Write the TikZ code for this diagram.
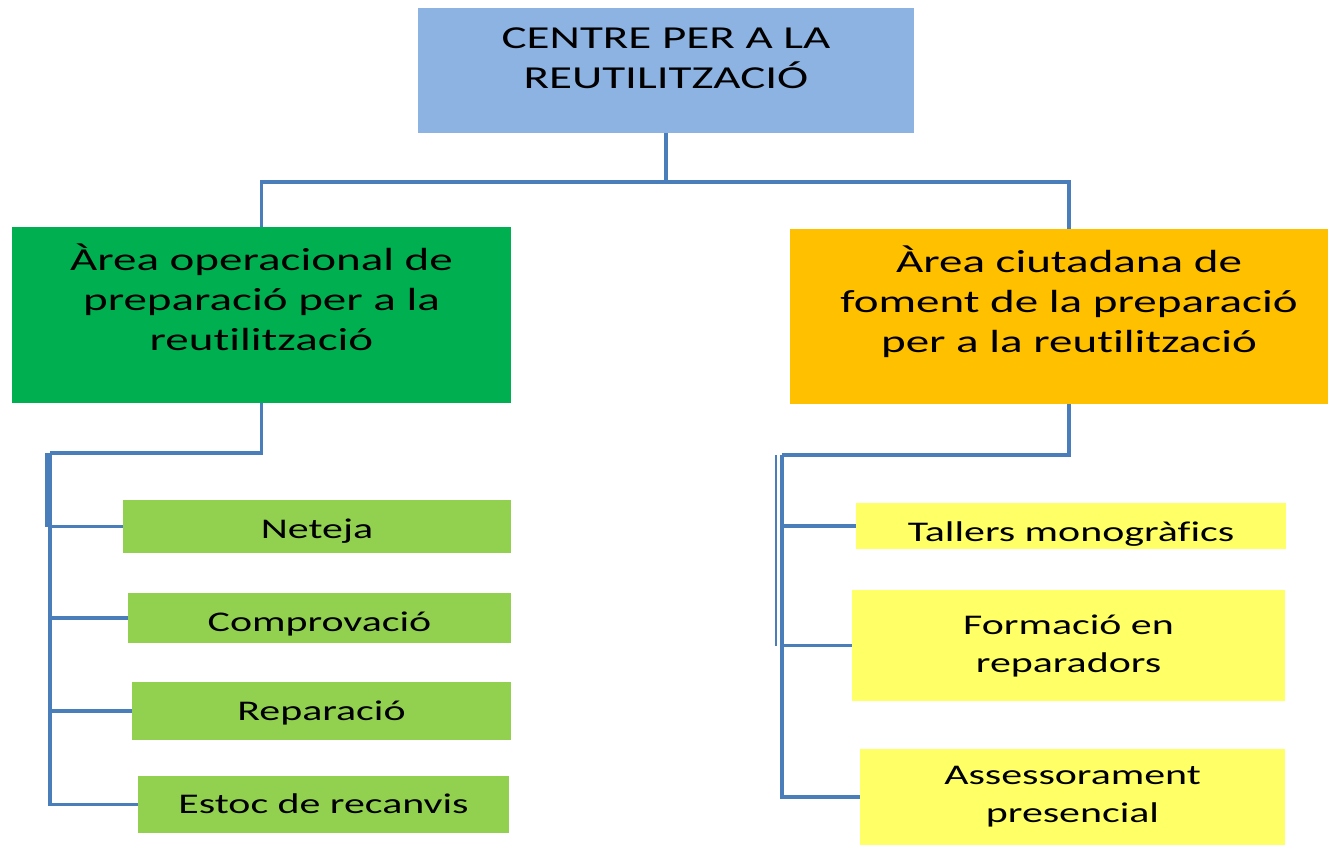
\documentclass[tikz,border=0pt]{standalone}
\usepackage{fontspec}
\newfontfamily\boxfont[FakeStretch=1.47,RawFeature=-liga,RawFeature=-clig,RawFeature=-calt,RawFeature=-dlig]{Carlito}

\definecolor{linkblue}{RGB}{74,126,187}
\definecolor{topblue}{RGB}{141,179,226}
\definecolor{opgreen}{RGB}{0,176,80}
\definecolor{ciuorange}{RGB}{255,192,0}
\definecolor{subgreen}{RGB}{146,208,80}
\definecolor{subyellow}{RGB}{255,255,102}

\tikzset{
  box/.style={rectangle, inner sep=0pt, align=center},
  hdrtext/.style={align=center, inner sep=0pt, font=\boxfont\fontsize{32}{40}\selectfont},
  subbox/.style={box, font=\boxfont\fontsize{28.5}{38}\selectfont},
  line1/.style={text depth=0pt, text height=#1},
  link/.style={draw=linkblue, line width=3.2pt}
}

\begin{document}
\begin{tikzpicture}[x=1pt,y=-1pt]
\useasboundingbox (0,0) rectangle (1328,847);

% main boxes
\node[box, fill=topblue, minimum width=496pt, minimum height=125pt] (centre) at (666,70.5) {};
\node[hdrtext] (centretxt) at (666,58) {CENTRE PER A LA\\REUTILITZACIÓ};

\node[box, fill=opgreen, minimum width=499pt, minimum height=176pt] (opa) at (261.5,315) {};
\node[hdrtext] (opatxt) at (261.5,297) {Àrea operacional de\\preparació per a la\\reutilització};

\node[box, fill=ciuorange, minimum width=558pt, minimum height=175pt] (ciu) at (1069,316.5) {};
\node[hdrtext] (ciutxt) at (1069,302) {Àrea ciutadana de\\foment de la preparació\\per a la reutilització};

% sub boxes, left
\node[subbox, line1=23pt, fill=subgreen, minimum width=388pt, minimum height=53pt] (neteja) at (317,526.5) {Neteja};
\node[subbox, line1=27pt, fill=subgreen, minimum width=383pt, minimum height=50pt] (comprov) at (319.5,618) {Comprovació};
\node[subbox, line1=18pt, fill=subgreen, minimum width=379pt, minimum height=58pt] (repar) at (321.5,711) {Reparació};
\node[subbox, line1=17pt, fill=subgreen, minimum width=371pt, minimum height=57pt] (estoc) at (323.5,804.5) {Estoc de recanvis};

% sub boxes, right
\node[subbox, line1=31pt, fill=subyellow, minimum width=430pt, minimum height=46pt] (tallers) at (1071,526) {Tallers monogràfics};
\node[subbox, fill=subyellow, minimum width=433pt, minimum height=111pt] (formacio) at (1068.5,645.5) {Formació en\\reparadors};
\node[subbox, fill=subyellow, minimum width=425pt, minimum height=96pt] (assess) at (1072.5,797) {Assessorament\\presencial};

% connectors
\coordinate (hub) at (666,182);
\draw[link] (centre.south) -- (hub) -| (opa.north);
\draw[link] (hub) -| (ciu.north);

\coordinate (opaknee) at (50,453);
\draw[link] (opa.south) |- (opaknee);
\foreach \s in {neteja,comprov,repar,estoc}
  \draw[link] (opaknee) |- (\s.west);
\draw[link] ([xshift=-3pt]opaknee) -- ([xshift=-3pt]opaknee |- neteja.west);

\coordinate (ciuknee) at (782,455);
\draw[link] (ciu.south) |- (ciuknee);
\foreach \s in {tallers,formacio,assess}
  \draw[link] (ciuknee) |- (\s.west);
\draw[link, line width=2pt] ([xshift=-6pt]ciuknee) -- ([xshift=-6pt]ciuknee |- formacio.west);
\end{tikzpicture}
\end{document}
